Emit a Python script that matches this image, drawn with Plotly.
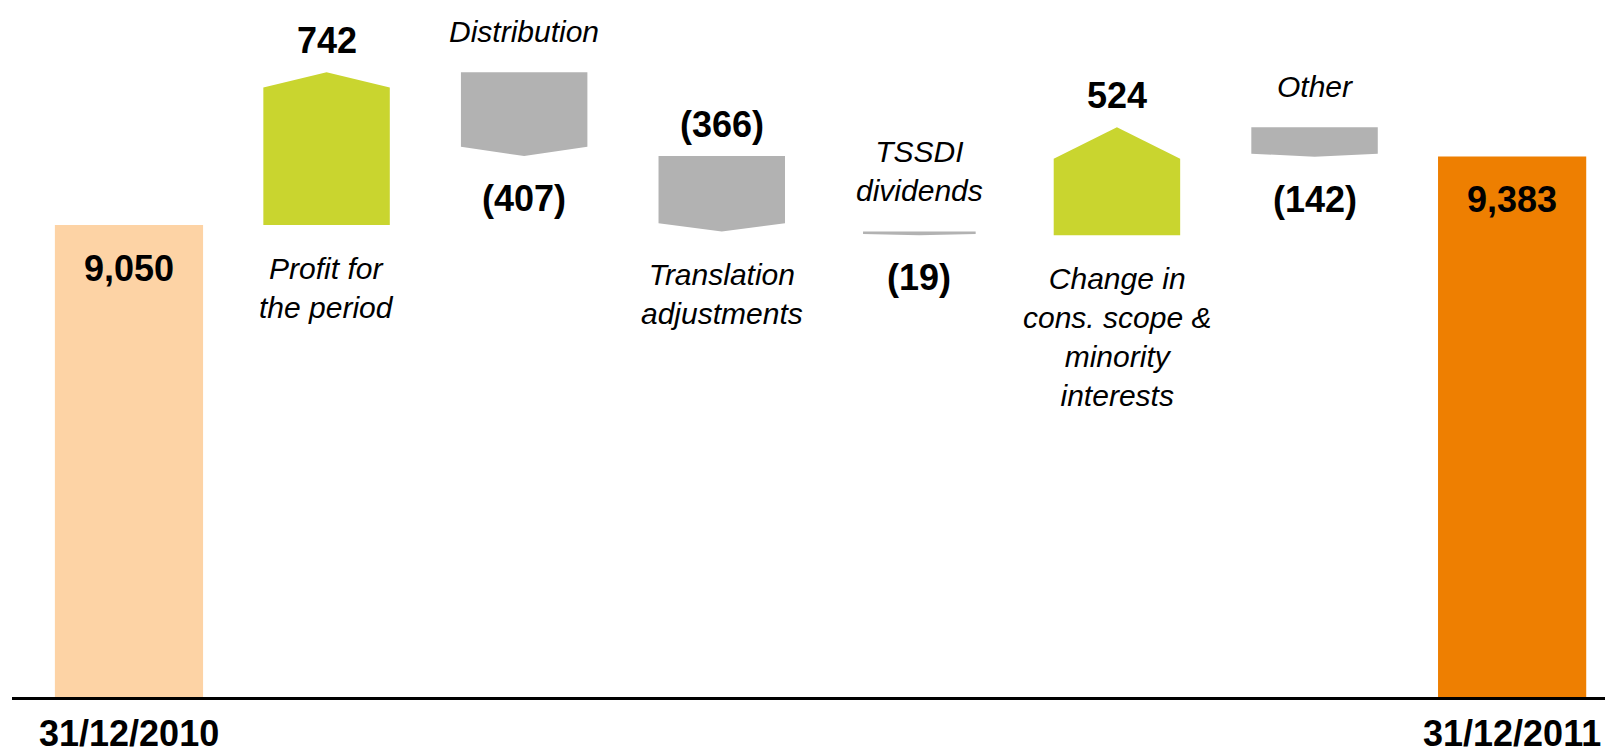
import plotly.graph_objects as go

# ---- data -------------------------------------------------------------
OPEN_LABEL = "31/12/2010"
CLOSE_LABEL = "31/12/2011"
OPEN_VALUE = 9050
CLOSE_VALUE = 9383

STEP_NAMES = [
    "Profit for<br>the period",
    "Distribution",
    "Translation<br>adjustments",
    "TSSDI<br>dividends",
    "Change in<br>cons. scope &<br>minority<br>interests",
    "Other",
]
STEP_VALUES = [742, -407, -366, -19, 524, -142]

# ---- styling ----------------------------------------------------------
FONT = "Liberation Sans, Arial, sans-serif"
OPEN_COLOR = "#FDD3A5"
CLOSE_COLOR = "#EE7F01"
UP_COLOR = "#C9D52F"
DOWN_COLOR = "#B2B2B2"
TOTAL_WIDTH = 0.75
STEP_WIDTH = [0.64, 0.64, 0.64, 0.57, 0.64, 0.64]
TIP_FRAC = [0.10, 0.11, 0.11, 0.33, 0.29, 0.10]   # arrow head height, share of the step
VALUE_SIDE = ["above", "below", "above", "below", "above", "below"]
Y_RANGE = [6760, 10142]
X_RANGE = [-0.592, 7.47]

fig = go.Figure()

# opening / closing totals
fig.add_trace(go.Bar(
    x=[0, len(STEP_VALUES) + 1],
    y=[OPEN_VALUE, CLOSE_VALUE],
    width=TOTAL_WIDTH,
    marker=dict(color=[OPEN_COLOR, CLOSE_COLOR], line=dict(width=0)),
    hoverinfo="skip",
))


def fmt_step(v):
    return f"({abs(v):,})" if v < 0 else f"{v:,}"


annotations = []
level = OPEN_VALUE
for i, (name, v) in enumerate(zip(STEP_NAMES, STEP_VALUES)):
    xc = i + 1
    start, end = level, level + v
    level = end
    hw = STEP_WIDTH[i] / 2
    head = TIP_FRAC[i] * v  # signed
    xs = [xc - hw, xc + hw, xc + hw, xc, xc - hw, xc - hw]
    ys = [start, start, end - head, end, end - head, start]
    fig.add_trace(go.Scatter(
        x=xs, y=ys, mode="lines", fill="toself",
        fillcolor=UP_COLOR if v > 0 else DOWN_COLOR,
        line=dict(width=0), hoverinfo="skip",
    ))

    top, bottom = max(start, end), min(start, end)
    value_font = dict(family=FONT, size=36, color="black", weight="bold")
    name_font = dict(family=FONT, size=30, color="black", style="italic")
    if VALUE_SIDE[i] == "above":
        annotations.append(dict(x=xc, y=top, text=fmt_step(v), font=value_font,
                                yanchor="bottom", yshift=9, showarrow=False))
        annotations.append(dict(x=xc, y=bottom, text=name, font=name_font,
                                yanchor="top", yshift=-25, showarrow=False))
    else:
        annotations.append(dict(x=xc, y=bottom, text=fmt_step(v), font=value_font,
                                yanchor="top", yshift=-20, showarrow=False))
        annotations.append(dict(x=xc, y=top, text=name, font=name_font,
                                yanchor="bottom", yshift=22, showarrow=False))

# total labels inside the bars and dates under the axis
for xc, v, date in [(0, OPEN_VALUE, OPEN_LABEL), (len(STEP_VALUES) + 1, CLOSE_VALUE, CLOSE_LABEL)]:
    annotations.append(dict(x=xc, y=v, text=f"{v:,}", yanchor="top", yshift=-21,
                            showarrow=False,
                            font=dict(family=FONT, size=36, color="black", weight="bold")))
    annotations.append(dict(x=xc, xref="x", y=0, yref="paper", text=date,
                            yanchor="top", yshift=-14, showarrow=False,
                            font=dict(family=FONT, size=36, color="black", weight="bold")))

fig.update_layout(
    width=1605, height=755,
    margin=dict(l=12, r=0, t=0, b=58),
    plot_bgcolor="white", paper_bgcolor="white",
    showlegend=False,
    annotations=annotations,
    xaxis=dict(range=X_RANGE, showgrid=False, zeroline=False, showticklabels=False,
               ticks="", showline=True, linecolor="black", linewidth=3, fixedrange=True),
    yaxis=dict(range=Y_RANGE, visible=False, showgrid=False, zeroline=False, fixedrange=True),
)

fig.write_html("out.html")
